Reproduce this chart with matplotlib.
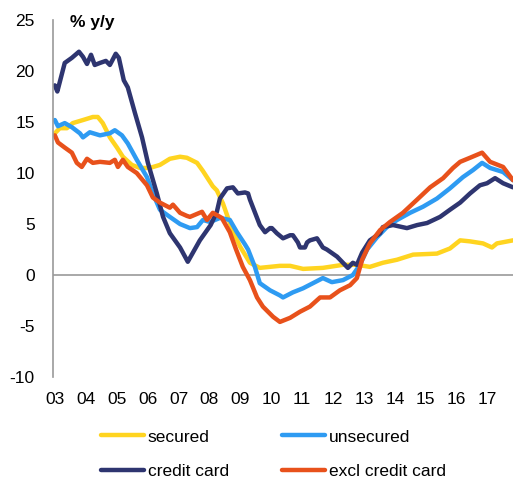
import numpy as np
import matplotlib
matplotlib.use("Agg")
import matplotlib.pyplot as plt

plt.rcParams['font.family'] = ['Liberation Sans', 'DejaVu Sans']
plt.rcParams['axes.unicode_minus'] = False

# values (decimal year, % y/y)
cc_year = [2003.00, 2003.08, 2003.32, 2003.55, 2003.78, 2003.91, 2004.04, 2004.17, 2004.29,
           2004.46, 2004.65, 2004.78, 2004.97, 2005.07, 2005.23, 2005.36, 2005.59, 2005.82,
           2006.01, 2006.30, 2006.50, 2006.72, 2007.05, 2007.30, 2007.69, 2008.04, 2008.24,
           2008.34, 2008.57, 2008.76, 2008.92, 2009.15, 2009.25, 2009.31, 2009.63, 2009.80,
           2009.96, 2010.02, 2010.18, 2010.38, 2010.61, 2010.70, 2010.86, 2010.93, 2011.09,
           2011.16, 2011.25, 2011.48, 2011.67, 2011.80, 2012.13, 2012.32, 2012.48, 2012.64,
           2012.77, 2012.94, 2013.19, 2013.52, 2013.61, 2013.94, 2014.39, 2014.72, 2015.04,
           2015.46, 2015.78, 2016.11, 2016.43, 2016.75, 2016.98, 2017.24, 2017.50, 2017.82]
cc_val = [18.6, 18.0, 20.8, 21.3, 21.9, 21.4, 20.7, 21.6, 20.6,
          20.8, 21.0, 20.6, 21.7, 21.3, 19.1, 18.4, 15.9, 13.5,
          11.0, 8.0, 5.7, 4.1, 2.7, 1.3, 3.4, 4.9, 6.2,
          7.5, 8.5, 8.6, 8.0, 8.1, 8.0, 7.4, 4.9, 4.2,
          4.6, 4.6, 4.1, 3.6, 3.9, 3.9, 3.2, 2.7, 2.7,
          3.2, 3.4, 3.6, 2.7, 2.5, 1.8, 1.2, 0.7, 1.2,
          1.0, 2.2, 3.4, 4.1, 4.7, 4.9, 4.6, 4.9, 5.1,
          5.7, 6.4, 7.1, 8.0, 8.8, 9.0, 9.5, 9.0, 8.6]

sec_year = [2003.00, 2003.16, 2003.39, 2003.58, 2003.91, 2004.23, 2004.39, 2004.55, 2004.78,
            2005.01, 2005.20, 2005.49, 2005.75, 2006.07, 2006.40, 2006.72, 2007.05, 2007.27,
            2007.60, 2007.79, 2008.11, 2008.24, 2008.44, 2008.73, 2008.99, 2009.31, 2009.63,
            2010.28, 2010.61, 2011.03, 2011.67, 2012.32, 2012.77, 2013.19, 2013.61, 2014.07,
            2014.59, 2015.36, 2015.78, 2016.11, 2016.43, 2016.85, 2017.14, 2017.30, 2017.82]
sec_val = [13.9, 14.4, 14.4, 14.9, 15.2, 15.5, 15.5, 14.9, 13.5,
           12.5, 11.6, 10.8, 10.5, 10.5, 10.8, 11.4, 11.6, 11.5,
           11.0, 10.2, 8.7, 8.3, 7.0, 4.5, 2.8, 1.2, 0.7,
           0.9, 0.9, 0.6, 0.7, 1.0, 1.0, 0.8, 1.2, 1.5,
           2.0, 2.1, 2.6, 3.4, 3.3, 3.1, 2.7, 3.1, 3.4]

uns_year = [2003.00, 2003.10, 2003.32, 2003.55, 2003.81, 2003.91, 2004.13, 2004.46, 2004.78,
            2004.94, 2005.17, 2005.36, 2005.65, 2005.98, 2006.17, 2006.40, 2006.72, 2007.05,
            2007.37, 2007.60, 2007.79, 2008.02, 2008.34, 2008.66, 2008.89, 2009.15, 2009.25,
            2009.47, 2009.63, 2009.96, 2010.28, 2010.38, 2010.70, 2011.03, 2011.35, 2011.67,
            2011.96, 2012.32, 2012.64, 2012.87, 2013.10, 2013.42, 2013.74, 2014.07, 2014.49,
            2014.91, 2015.36, 2015.78, 2016.20, 2016.53, 2016.82, 2017.08, 2017.50, 2017.82]
uns_val = [15.2, 14.6, 14.9, 14.5, 13.9, 13.5, 14.0, 13.7, 13.9,
           14.2, 13.7, 12.9, 11.3, 9.6, 8.0, 6.4, 5.7, 5.0,
           4.6, 4.7, 5.4, 5.2, 5.6, 5.4, 4.2, 3.0, 2.5,
           0.8, -0.8, -1.5, -2.0, -2.2, -1.7, -1.3, -0.8, -0.3,
           -0.7, -0.5, 0.0, 1.0, 2.5, 3.7, 4.7, 5.4, 6.1,
           6.7, 7.5, 8.5, 9.6, 10.3, 11.0, 10.5, 10.1, 9.3]

ex_year = [2003.00, 2003.10, 2003.32, 2003.55, 2003.71, 2003.87, 2004.04, 2004.23, 2004.46,
           2004.78, 2004.94, 2005.04, 2005.20, 2005.36, 2005.65, 2005.98, 2006.17, 2006.40,
           2006.72, 2006.82, 2007.05, 2007.27, 2007.37, 2007.76, 2007.92, 2008.11, 2008.40,
           2008.66, 2008.85, 2009.08, 2009.31, 2009.54, 2009.73, 2010.06, 2010.28, 2010.61,
           2010.93, 2011.25, 2011.58, 2011.90, 2012.22, 2012.55, 2012.77, 2012.94, 2013.19,
           2013.52, 2013.84, 2014.26, 2014.72, 2015.14, 2015.56, 2015.88, 2016.11, 2016.43,
           2016.82, 2017.08, 2017.50, 2017.82]
ex_val = [13.7, 13.0, 12.5, 12.0, 11.0, 10.6, 11.4, 11.0, 11.1,
          11.0, 11.3, 10.6, 11.3, 10.6, 10.0, 8.8, 7.6, 7.1,
          6.6, 6.9, 6.1, 5.8, 5.7, 6.2, 5.4, 6.1, 5.6,
          4.2, 2.6, 0.8, -0.5, -2.2, -3.1, -4.1, -4.6, -4.2,
          -3.6, -3.1, -2.2, -2.2, -1.5, -1.0, -0.3, 1.5, 3.1,
          4.4, 5.2, 6.1, 7.4, 8.6, 9.5, 10.5, 11.1, 11.5,
          12.0, 11.1, 10.6, 9.3]

tick_years = list(range(2003, 2018))
tick_labels = ["%02d" % (y % 100) for y in tick_years]

fig = plt.figure(figsize=(5.13, 4.79), dpi=100)
ax = fig.add_axes([0.103, 0.213, 0.897, 0.745])

lw = 3.2
l_sec, = ax.plot(sec_year, sec_val, color="#FFD420", lw=lw, solid_capstyle="round")
l_uns, = ax.plot(uns_year, uns_val, color="#2E9BF2", lw=lw, solid_capstyle="round")
l_cc, = ax.plot(cc_year, cc_val, color="#2E3570", lw=lw, solid_capstyle="round")
l_ex, = ax.plot(ex_year, ex_val, color="#E8511B", lw=lw, solid_capstyle="round")

ax.axhline(0, color="#999999", lw=1.2, zorder=1)

ax.set_xlim(2002.935, 2017.82)
ax.set_ylim(-10, 25)
ax.set_yticks(range(-10, 30, 5))
ax.set_xticks(tick_years)
ax.set_xticklabels(tick_labels)
ax.tick_params(axis="both", length=0, labelsize=12.5)
ax.tick_params(axis="y", pad=13)
ax.tick_params(axis="x", pad=11)

for s in ["top", "right", "bottom"]:
    ax.spines[s].set_visible(False)
ax.spines["left"].set_color("#999999")
ax.spines["left"].set_linewidth(1.2)

ax.text(2003.48, 24.8, "% y/y", fontsize=12.5, fontweight="bold", va="center", ha="left")

fig.legend([l_sec, l_cc, l_uns, l_ex],
           ["secured", "credit card", "unsecured", "excl credit card"],
           ncol=2, frameon=False, fontsize=12.5,
           loc="center", bbox_to_anchor=(0.533, 0.052),
           handlelength=2.5, handletextpad=0.2, columnspacing=3.05,
           labelspacing=1.1)

fig.savefig("out.png", dpi=100)
